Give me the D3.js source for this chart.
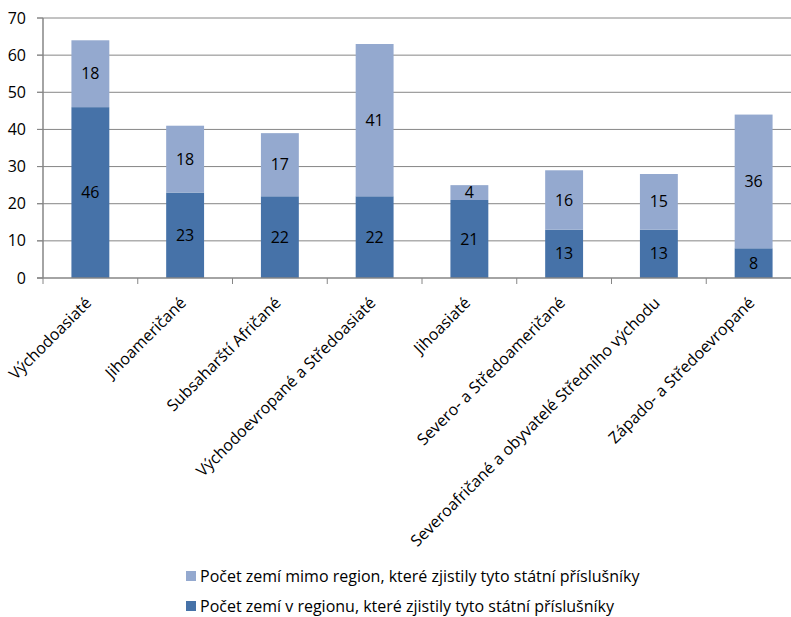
<!DOCTYPE html>
<html><head><meta charset="utf-8">
<script src="https://cdn.jsdelivr.net/npm/d3@7"></script>
<style>body{margin:0;background:#fff;overflow:hidden}svg{display:block}</style>
</head><body>
<script>
const categories = ["Východoasiaté","Jihoameričané","Subsaharští Afričané","Východoevropané a Středoasiaté","Jihoasiaté","Severo- a Středoameričané","Severoafričané a obyvatelé Středního východu","Západo- a Středoevropané"];
const inRegion = [46,23,22,22,21,13,13,8];
const outRegion = [18,18,17,41,4,16,15,36];
const seriesNames = ["Počet zemí mimo region, které zjistily tyto státní příslušníky","Počet zemí v regionu, které zjistily tyto státní příslušníky"];
const yTicks = [0,10,20,30,40,50,60,70];

(function(){
const W=791,H=617;
const font="'Open Sans', sans-serif";
const fs=16;
const svg=d3.select("body").append("svg").attr("width",W).attr("height",H).style("font-family",font);
const mL=43,mR=801,mT=18,mB=278;
const x=d3.scaleBand().domain(categories).range([mL,mR]).paddingInner(0.6).paddingOuter(0.3);
const y=d3.scaleLinear().domain([0,70]).range([mB,mT]);
const cDark="#4672A8",cLight="#94A9CF";

svg.append("g").selectAll("line").data(yTicks.slice(1)).join("line")
 .attr("x1",mL-6).attr("x2",mR).attr("y1",d=>y(d)).attr("y2",d=>y(d))
 .attr("stroke","#868686").attr("stroke-width",1);
svg.append("g").selectAll("text").data(yTicks).join("text")
 .attr("x",mL-17).attr("y",d=>y(d)).attr("dy","0.35em").attr("text-anchor","end")
 .attr("font-size",fs).attr("fill","#000").text(d=>d);

const g=svg.append("g");
categories.forEach((c,i)=>{
  g.append("rect").attr("x",x(c)).attr("width",x.bandwidth()).attr("y",y(inRegion[i])).attr("height",y(0)-y(inRegion[i])).attr("fill",cDark);
  g.append("rect").attr("x",x(c)).attr("width",x.bandwidth()).attr("y",y(inRegion[i]+outRegion[i])).attr("height",y(inRegion[i])-y(inRegion[i]+outRegion[i])).attr("fill",cLight);
  g.append("text").attr("x",x(c)+x.bandwidth()/2).attr("y",(y(0)+y(inRegion[i]))/2).attr("dy","0.35em").attr("text-anchor","middle").attr("font-size",fs).text(inRegion[i]);
  g.append("text").attr("x",x(c)+x.bandwidth()/2).attr("y",(y(inRegion[i])+y(inRegion[i]+outRegion[i]))/2).attr("dy","0.35em").attr("text-anchor","middle").attr("font-size",fs).text(outRegion[i]);
});

svg.append("line").attr("x1",mL).attr("x2",mL).attr("y1",mT).attr("y2",mB).attr("stroke","#868686").attr("stroke-width",1.5);
svg.append("line").attr("x1",mL-6).attr("x2",mR).attr("y1",mB).attr("y2",mB).attr("stroke","#868686").attr("stroke-width",1.5);
svg.append("g").selectAll("line").data(d3.range(categories.length+1)).join("line")
 .attr("x1",d=>mL+d*x.step()).attr("x2",d=>mL+d*x.step())
 .attr("y1",mB).attr("y2",mB+6).attr("stroke","#868686").attr("stroke-width",1);
svg.append("g").selectAll("line").data(yTicks).join("line")
 .attr("x1",mL-6).attr("x2",mL).attr("y1",d=>y(d)).attr("y2",d=>y(d)).attr("stroke","#868686");

svg.append("g").selectAll("text").data(categories).join("text")
 .attr("transform",d=>`translate(${x(d)+x.bandwidth()/2+2},${mB+26}) rotate(-45)`)
 .attr("text-anchor","end").attr("font-size",fs).text(d=>d);

const leg=[{n:seriesNames[0],c:cLight,y:576},{n:seriesNames[1],c:cDark,y:606}];
leg.forEach(l=>{
  svg.append("rect").attr("x",186).attr("y",l.y-5).attr("width",10).attr("height",10).attr("fill",l.c);
  svg.append("text").attr("x",200).attr("y",l.y).attr("dy","0.35em").attr("font-size",fs).text(l.n);
});
})();
</script>
</body></html>
